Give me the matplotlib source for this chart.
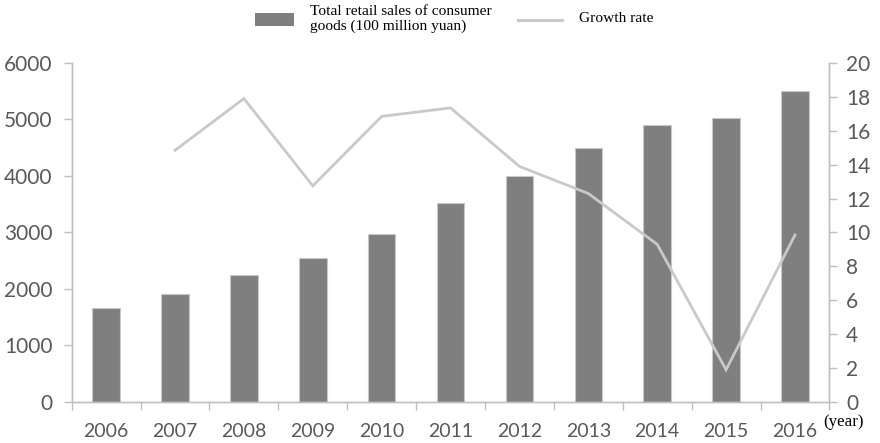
import matplotlib
matplotlib.use("Agg")
import matplotlib.pyplot as plt
from matplotlib.patches import Rectangle
from matplotlib.lines import Line2D
import numpy as np

years = ["2006", "2007", "2008", "2009", "2010", "2011",
         "2012", "2013", "2014", "2015", "2016"]
retail_sales = [1670, 1920, 2250, 2550, 2980, 3520, 4000, 4500, 4900, 5020, 5500]
growth_years = ["2007", "2008", "2009", "2010", "2011",
                "2012", "2013", "2014", "2015", "2016"]
growth_rate = [14.85, 17.9, 12.75, 16.85, 17.35, 13.9, 12.3, 9.3, 1.9, 9.85]
left_ticks = [0, 1000, 2000, 3000, 4000, 5000, 6000]
right_ticks = [0, 2, 4, 6, 8, 10, 12, 14, 16, 18, 20]

TICK_FONT = "Lato"
SERIF = "Liberation Serif"
TXT = "#595959"
SPINE = "#bfbfbf"
BAR = "#7f7f7f"
LINE = "#c9c9c9"

fig = plt.figure(figsize=(8.8, 4.43), dpi=100)
ax = fig.add_axes([0.0815, 0.0926, 0.861, 0.7652])
ax2 = ax.twinx()

x = np.arange(len(years))
ax.bar(x, retail_sales, width=0.4, color=BAR, edgecolor="#c8c8c8",
       linewidth=0.8, zorder=2)

gx = [years.index(y) for y in growth_years]
ax2.plot(gx, growth_rate, color=LINE, linewidth=2.0, solid_joinstyle="miter",
         zorder=3)

ax.set_xlim(-0.5, len(years) - 0.5)
ax.set_ylim(0, 6000)
ax2.set_ylim(0, 20)

ax.set_yticks(left_ticks)
ax.set_yticklabels([str(v) for v in left_ticks])
ax2.set_yticks(right_ticks)
ax2.set_yticklabels([str(v) for v in right_ticks])

ax.set_xticks(x)
ax.set_xticklabels(years)
ax.set_xticks(np.arange(-0.5, len(years), 1.0), minor=True)
ax.tick_params(axis="x", which="major", length=0, pad=15,
               labelsize=14, labelcolor=TXT)
ax.tick_params(axis="x", which="minor", length=6, width=1, color=SPINE,
               direction="out")
ax.tick_params(axis="y", length=6, width=1, color=SPINE, pad=8,
               labelsize=15, labelcolor=TXT)
ax2.tick_params(axis="y", length=6, width=1, color=SPINE, pad=6,
                labelsize=15, labelcolor=TXT)

for a in (ax, ax2):
    for lbl in a.get_xticklabels() + a.get_yticklabels():
        lbl.set_fontfamily(TICK_FONT)
    a.spines["top"].set_visible(False)
    for s in ("left", "right", "bottom"):
        a.spines[s].set_color(SPINE)
        a.spines[s].set_linewidth(1.0)

ax.set_zorder(ax2.get_zorder() - 1)
ax2.patch.set_visible(False)
ax.patch.set_visible(False)

# legend drawn in figure coordinates above the plot
fig.patches.append(Rectangle((255 / 880, 1 - 26 / 443), 39 / 880, 13 / 443,
                             transform=fig.transFigure, facecolor=BAR,
                             edgecolor="none"))
fig.text(310 / 880, 1 - 19 / 443,
         "Total retail sales of consumer\ngoods (100 million yuan)",
         family=SERIF, fontsize=11.1, color="black", va="center", ha="left",
         linespacing=1.1)
fig.lines.append(Line2D([518 / 880, 562 / 880], [1 - 20 / 443, 1 - 20 / 443],
                        transform=fig.transFigure, color=LINE, linewidth=2.2))
fig.text(579 / 880, 1 - 19 / 443, "Growth rate", family=SERIF, fontsize=11.1,
         color="black", va="center", ha="left")

fig.text(823 / 880, 1 - 422 / 443, "(year)", family=SERIF, fontsize=12.2,
         color="black", va="center", ha="left")

fig.savefig("out.png", dpi=100)
